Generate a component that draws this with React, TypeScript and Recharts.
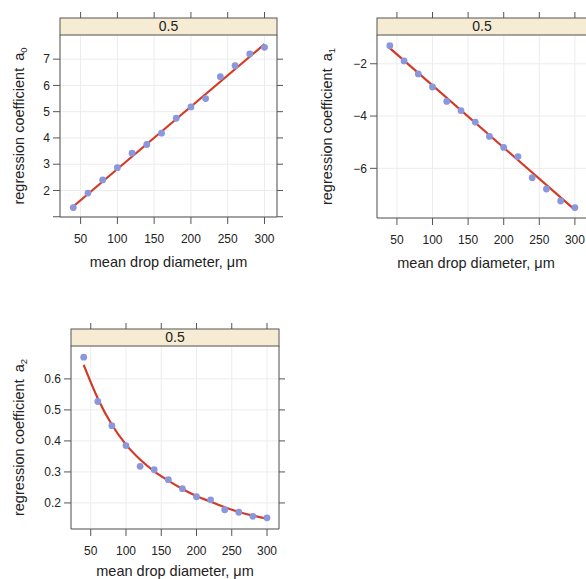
import React from 'react'
import { ComposedChart, Line, Scatter, XAxis, YAxis, CartesianGrid, usePlotArea } from 'recharts'

// values
const diameters = [40, 60, 80, 100, 120, 140, 160, 180, 200, 220, 240, 260, 280, 300]
const a0Points = [1.35, 1.9, 2.4, 2.87, 3.42, 3.75, 4.18, 4.75, 5.18, 5.5, 6.33, 6.75, 7.2, 7.45]
const a1Points = [-1.31, -1.89, -2.39, -2.89, -3.44, -3.79, -4.23, -4.78, -5.2, -5.55, -6.36, -6.79, -7.25, -7.5]
const a2Points = [0.67, 0.527, 0.449, 0.385, 0.318, 0.307, 0.275, 0.246, 0.22, 0.21, 0.178, 0.17, 0.157, 0.152]

const fitEnds = [40, 300]
const a0Fit = [1.39, 7.57]
const a1Fit = [-1.4, -7.59]
const a2Fit = [0.645, 0.537, 0.452, 0.388, 0.34, 0.302, 0.272, 0.245, 0.222, 0.204, 0.186, 0.171, 0.159, 0.149]

const xTicks = [50, 100, 150, 200, 250, 300]
const a0Ticks = [1, 2, 3, 4, 5, 6, 7]
const a1Ticks = [-6, -4, -2]
const a2Ticks = [0.2, 0.3, 0.4, 0.5, 0.6]

const stripLabel = '0.5'
const xTitle = 'mean drop diameter, μm'
const yTitle = 'regression coefficient'

const FONT = '"Liberation Sans", Arial, Helvetica, sans-serif'
const TEXT = '#222222'
const AXIS = '#555555'
const GRID = '#ececec'
const STRIP_FILL = '#f6ecd4'
const POINT = '#8a97dc'
const FIT = '#d33a26'
const STRIP_H = 17
const X_DOMAIN = [22, 317]

const toXY = (xs: number[], ys: number[]) => xs.map((x, i) => ({ x, y: ys[i] }))
const minus = (v: number) => String(v).replace('-', '\u2212')

function Strip() {
  const plot = usePlotArea()
  if (!plot) return null
  return (
    <g>
      <rect x={plot.x} y={plot.y - STRIP_H} width={plot.width} height={STRIP_H} fill={STRIP_FILL} stroke={AXIS} />
      <text x={plot.x + plot.width / 2} y={plot.y - 4} textAnchor="middle" fontSize={14} fontFamily={FONT} fill={TEXT}>
        {stripLabel}
      </text>
    </g>
  )
}

function Titles({ sub, yOffset, xDx, xDy }: { sub: string; yOffset: number; xDx: number; xDy: number }) {
  const plot = usePlotArea()
  if (!plot) return null
  const yx = plot.x + yOffset
  const yy = plot.y + plot.height / 2
  return (
    <g fontFamily={FONT} fill={TEXT} fontSize={14.5}>
      <text x={plot.x + plot.width / 2 + xDx} y={plot.y + plot.height + xDy} textAnchor="middle">
        {xTitle}
      </text>
      <text x={yx} y={yy} textAnchor="middle" transform={`rotate(-90, ${yx}, ${yy})`}>
        {yTitle}
        <tspan dx={7}>a</tspan>
        <tspan dy={3} fontSize={9.5}>{sub}</tspan>
      </text>
    </g>
  )
}

// tick mark above the strip; y is where the top axis meets the plot
const TopTick = (props: any) => {
  const { x, y } = props
  if (x == null || y == null) return <g />
  return <line x1={x} x2={x} y1={y - STRIP_H} y2={y - STRIP_H - 6} stroke={AXIS} />
}

const NoLabel = () => <g />

interface PanelProps {
  box: number[] // left, top, right, bottom of chart box
  plot: number[] // left, top, right, bottom of plot area
  points: number[]
  fitX: number[]
  fitY: number[]
  curved?: boolean
  yDomain: number[]
  yTicks: number[]
  yFmt: (v: number) => string
  sub: string
  yOffset: number
  xDx: number
  xDy: number
}

function Panel({ box, plot, points, fitX, fitY, curved, yDomain, yTicks, yFmt, sub, yOffset, xDx, xDy }: PanelProps) {
  const [bl, bt, br, bb] = box
  const [pl, pt, pr, pb] = plot
  const tickStyle = { fontSize: 12, fill: TEXT, fontFamily: FONT }
  return (
    <div style={{ position: 'absolute', left: bl, top: bt }}>
      <ComposedChart width={br - bl} height={bb - bt} margin={{ top: 0, right: 0, bottom: 0, left: 0 }}>
        <CartesianGrid stroke={GRID} />
        <XAxis
          type="number"
          dataKey="x"
          domain={X_DOMAIN}
          ticks={xTicks}
          interval={0}
          allowDataOverflow
          height={bb - pb}
          tick={tickStyle}
          tickSize={7}
          tickMargin={10}
          stroke={AXIS}
        />
        <XAxis
          xAxisId="top"
          orientation="top"
          type="number"
          dataKey="x"
          domain={X_DOMAIN}
          ticks={xTicks}
          interval={0}
          allowDataOverflow
          height={pt - bt}
          tick={TopTick}
          tickLine={false}
          axisLine={false}
          tickSize={0}
          tickMargin={0}
          stroke={AXIS}
        />
        <YAxis
          type="number"
          dataKey="y"
          domain={yDomain}
          ticks={yTicks}
          interval={0}
          allowDataOverflow
          width={pl - bl}
          tick={tickStyle}
          tickFormatter={yFmt}
          tickSize={7}
          tickMargin={3}
          stroke={AXIS}
        />
        <YAxis
          yAxisId="right"
          orientation="right"
          type="number"
          domain={yDomain}
          ticks={yTicks}
          interval={0}
          allowDataOverflow
          width={br - pr}
          tick={NoLabel}
          tickSize={6}
          stroke={AXIS}
        />
        <Scatter
          data={toXY(diameters, points)}
          dataKey="y"
          isAnimationActive={false}
          shape={(p: any) => <circle cx={p.cx} cy={p.cy} r={3.4} fill={POINT} />}
        />
        <Line
          xAxisId="top"
          data={toXY(fitX, fitY)}
          dataKey="y"
          type={curved ? 'monotone' : 'linear'}
          stroke={FIT}
          strokeWidth={2.2}
          dot={false}
          activeDot={false}
          isAnimationActive={false}
        />
        <Strip />
        <Titles sub={sub} yOffset={yOffset} xDx={xDx} xDy={xDy} />
      </ComposedChart>
    </div>
  )
}

export default function App() {
  return (
    <div style={{ position: 'absolute', left: 0, top: 0, width: 586, height: 579, overflow: 'hidden', background: '#fff' }}>
      <Panel
        box={[0, 0, 287, 275]}
        plot={[60, 35, 277, 217]}
        points={a0Points}
        fitX={fitEnds}
        fitY={a0Fit}
        yDomain={[0.99, 7.92]}
        yTicks={a0Ticks}
        yFmt={(v) => (v === 1 ? '' : String(v))}
        sub="0"
        yOffset={-36}
        xDx={0}
        xDy={50}
      />
      <Panel
        box={[300, 0, 597, 275]}
        plot={[377, 35, 587, 218]}
        points={a1Points}
        fitX={fitEnds}
        fitY={a1Fit}
        yDomain={[-7.9, -0.9]}
        yTicks={a1Ticks}
        yFmt={minus}
        sub="1"
        yOffset={-45}
        xDx={-6}
        xDy={50}
      />
      <Panel
        box={[0, 300, 290, 579]}
        plot={[71, 346, 279, 529]}
        points={a2Points}
        fitX={diameters}
        fitY={a2Fit}
        curved
        yDomain={[0.116, 0.706]}
        yTicks={a2Ticks}
        yFmt={(v) => String(v)}
        sub="2"
        yOffset={-47}
        xDx={0}
        xDy={47}
      />
    </div>
  )
}
